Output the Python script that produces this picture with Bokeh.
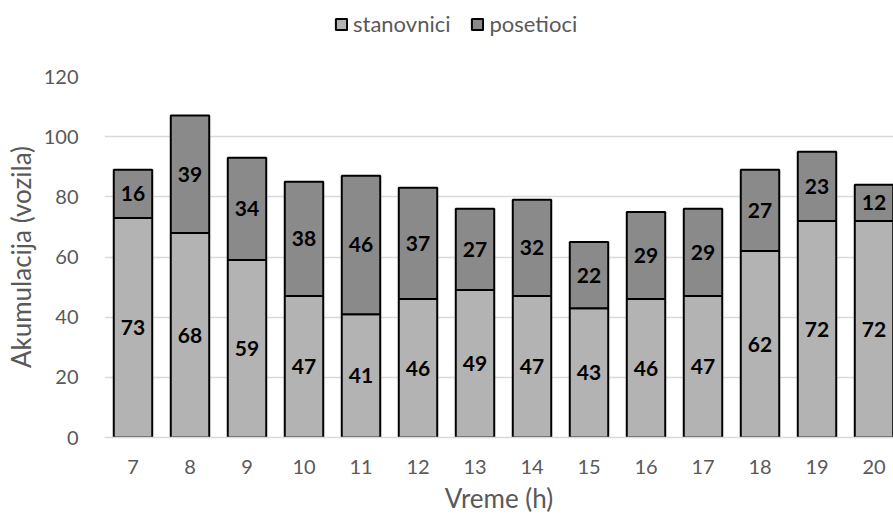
from bokeh.plotting import figure
from bokeh.layouts import column
from bokeh.models import ColumnDataSource, Range1d, Legend, LegendItem, FixedTicker
from bokeh.core.properties import value
from bokeh.embed import file_html
from bokeh.resources import INLINE

# Hourly accumulation of vehicles, split by group
hours = [7, 8, 9, 10, 11, 12, 13, 14, 15, 16, 17, 18, 19, 20]
stanovnici = [73, 68, 59, 47, 41, 46, 49, 47, 43, 46, 47, 62, 72, 72]
posetioci = [16, 39, 34, 38, 46, 37, 27, 32, 22, 29, 29, 27, 23, 12]
y_ticks = [0, 20, 40, 60, 80, 100, 120]
series_names = ["stanovnici", "posetioci"]

FONT = "Lato"
TEXT_GREY = "#595959"
GRID_GREY = "#d9d9d9"
LIGHT = "#b3b3b3"
DARK = "#8a8a8a"
COLORS = [LIGHT, DARK]

src = ColumnDataSource(dict(
    x=hours,
    stanovnici=stanovnici,
    posetioci=posetioci,
    y_st=[a / 2 for a in stanovnici],
    y_po=[a + b / 2 for a, b in zip(stanovnici, posetioci)],
    t_st=[str(a) for a in stanovnici],
    t_po=[str(b) for b in posetioci],
))

bar_kw = dict(x="x", width=0.675, source=src,
              fill_color=COLORS, line_color="black", line_width=2)

# ---- main chart ----
p = figure(
    width=893, height=456,
    output_backend="svg", toolbar_location=None,
    x_range=Range1d(6.5, 20.342), y_range=Range1d(0, 120),
    min_border_left=104, min_border_right=0,
    min_border_top=15, min_border_bottom=80,
)
p.frame_align = False
p.outline_line_color = None

p.vbar_stack(series_names, **bar_kw)

lab_kw = dict(
    text_align="center", text_baseline="middle",
    text_font=value(FONT), text_font_style="bold",
    text_font_size="21px", text_color="black", source=src,
)
p.text(x="x", y="y_st", text="t_st", **lab_kw)
p.text(x="x", y="y_po", text="t_po", **lab_kw)

p.xaxis.ticker = FixedTicker(ticks=hours)
p.yaxis.ticker = FixedTicker(ticks=y_ticks)
for ax in (p.xaxis, p.yaxis):
    ax.major_tick_line_color = None
    ax.minor_tick_line_color = None
    ax.major_label_text_font = FONT
    ax.major_label_text_font_size = "20px"
    ax.major_label_text_color = TEXT_GREY
    ax.axis_label_text_font = FONT
    ax.axis_label_text_font_size = "26px"
    ax.axis_label_text_font_style = "normal"
    ax.axis_label_text_color = TEXT_GREY
p.yaxis.axis_line_color = None
p.xaxis.axis_line_color = GRID_GREY
p.xaxis.axis_line_width = 1.5
p.xaxis.axis_label = "Vreme (h)"
p.yaxis.axis_label = "Akumulacija (vozila)"
p.yaxis.major_label_standoff = 20
p.yaxis.axis_label_standoff = 4
p.xaxis.major_label_standoff = 16
p.xaxis.axis_label_standoff = 5

p.xgrid.grid_line_color = None
p.ygrid.grid_line_color = GRID_GREY
p.ygrid.grid_line_width = 1.5

# ---- legend strip above the chart ----
# Hidden copies of the stacked bars supply the legend swatches.
top = figure(
    width=893, height=61,
    output_backend="svg", toolbar_location=None,
    x_range=Range1d(0, 1), y_range=Range1d(0, 1),
    x_axis_type=None, y_axis_type=None,
    min_border=0,
)
top.frame_align = False
top.outline_line_color = None
top.grid.grid_line_color = None
swatches = top.vbar_stack(series_names, visible=False, **bar_kw)

legend = Legend(
    items=[LegendItem(label=n, renderers=[r]) for n, r in zip(series_names, swatches)],
    orientation="horizontal", location=(334, 24),
    glyph_width=14, glyph_height=14, label_standoff=5, spacing=20,
    padding=0, margin=0,
    label_text_font=FONT, label_text_font_size="22px",
    label_text_color=TEXT_GREY,
    border_line_alpha=0, background_fill_alpha=0,
    inactive_fill_alpha=0,
)
top.add_layout(legend)

layout = column(top, p, spacing=0)
open("out.html", "w").write(file_html(layout, INLINE))
